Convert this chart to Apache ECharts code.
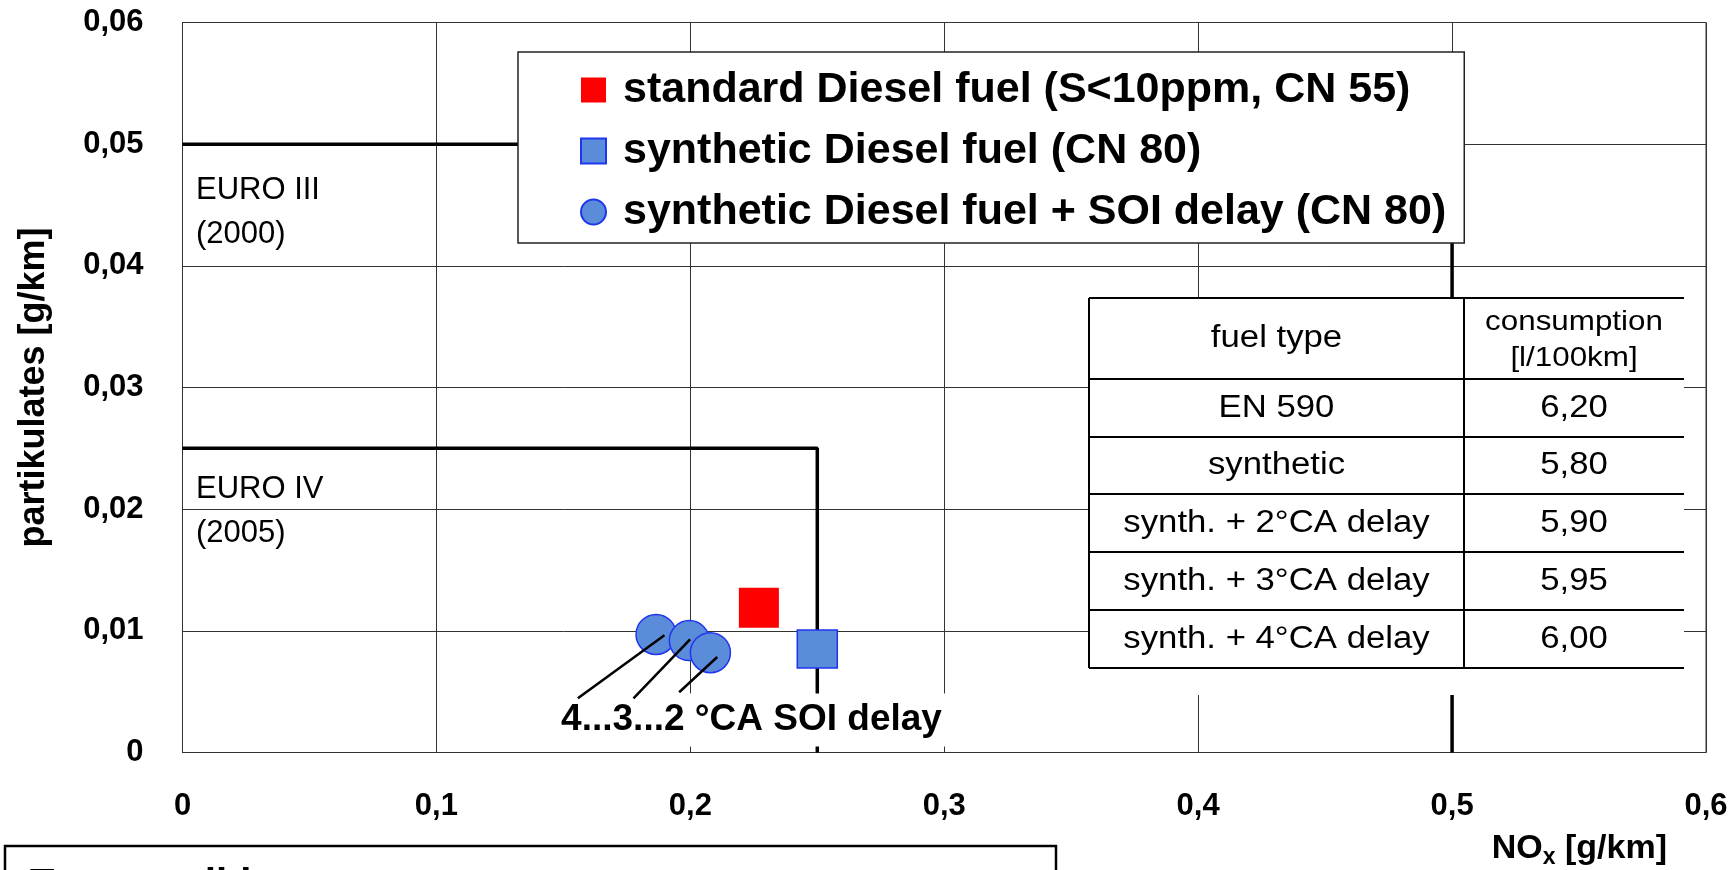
<!DOCTYPE html>
<html>
<head>
<meta charset="utf-8">
<script src="https://cdn.jsdelivr.net/npm/echarts@6/dist/echarts.min.js"></script>
<style>
html, body { margin: 0; padding: 0; background: #fff; }
#main { width: 1729px; height: 870px; }
</style>
</head>
<body>
<div id="main"></div>
<script>
// tick labels (German decimal comma)
var xTicks = ['0', '0,1', '0,2', '0,3', '0,4', '0,5', '0,6'];
var yTicks = ['0', '0,01', '0,02', '0,03', '0,04', '0,05', '0,06'];

// measured points [NOx, particulates]
var stdFuel = [[0.227, 0.0119]];
var synFuel = [[0.25, 0.0085]];
var synDelay = [[0.1865, 0.0097], [0.1996, 0.0092], [0.2079, 0.0082]];

// emission limits
var euro3 = [[0, 0.05], [0.5, 0.05], [0.5, 0]];
var euro4 = [[0, 0.025], [0.25, 0.025], [0.25, 0]];
var euroText = [
    {value: [0.0053, 0.0444], name: 'EURO III\n(2000)'},
    {value: [0.0053, 0.0198], name: 'EURO IV\n(2005)'}
];

// annotation for the SOI delay points
var soiNote = [{value: [0.2241, 0.00267], name: '4...3...2 °CA SOI delay'}];
var leaders = [
    [[0.1898, 0.00963], [0.1557, 0.00445]],
    [[0.1999, 0.0093], [0.1776, 0.00445]],
    [[0.2106, 0.00785], [0.1956, 0.00495]]
];

// consumption table
var tableHead = ['fuel type', 'consumption\n[l/100km]'];
var fuelTypes = ['EN 590', 'synthetic', 'synth. + 2°CA delay', 'synth. + 3°CA delay', 'synth. + 4°CA delay'];
var consumption = ['6,20', '5,80', '5,90', '5,95', '6,00'];

var FONT = '"Liberation Sans", Arial, Helvetica, sans-serif';
var blue = '#5b8cd9';
var blueBorder = '#1f35f0';

function cellText(x, y, txt, size, extra) {
    var st = {text: txt, font: size + 'px ' + FONT, fill: '#000', align: 'center', verticalAlign: 'middle'};
    if (extra) st.lineHeight = extra;
    return {type: 'text', z: 102, x: x, y: y, scaleX: 1.12, style: st};
}

function buildTable() {
    var x0 = 1089, x1 = 1464, x2 = 1684;
    var rows = [298, 379, 437, 494, 552, 610, 668];
    var els = [];
    els.push({type: 'rect', z: 100, shape: {x: x0, y: 298, width: x2 - x0, height: 397},
        style: {fill: '#fff', stroke: null}});
    rows.forEach(function (y) {
        els.push({type: 'line', z: 101, shape: {x1: x0, y1: y, x2: x2, y2: y},
            style: {stroke: '#000', lineWidth: 2}});
    });
    [x0, x1].forEach(function (x) {
        els.push({type: 'line', z: 101, shape: {x1: x, y1: rows[0], x2: x, y2: rows[6]},
            style: {stroke: '#000', lineWidth: 2}});
    });
    var c1 = (x0 + x1) / 2, c2 = (x1 + x2) / 2;
    els.push(cellText(c1, (rows[0] + rows[1]) / 2, tableHead[0], 31));
    els.push(cellText(c2, (rows[0] + rows[1]) / 2 + 2, tableHead[1], 28, 36));
    for (var i = 0; i < fuelTypes.length; i++) {
        var cy = (rows[i + 1] + rows[i + 2]) / 2;
        els.push(cellText(c1, cy, fuelTypes[i], 31));
        els.push(cellText(c2, cy, consumption[i], 31));
    }
    return els;
}

var myChart = echarts.init(document.getElementById('main'));

var option = {
    animation: false,
    backgroundColor: '#fff',
    textStyle: {fontFamily: FONT},
    grid: {
        left: 182.5,
        right: 23,
        top: 22.5,
        bottom: 117.5,
        outerBoundsMode: 'none',
        containLabel: false,
        show: true,
        borderColor: '#333',
        borderWidth: 1
    },
    legend: {
        orient: 'vertical',
        left: 518,
        top: 52,
        padding: [15, 18, 8, 62],
        itemGap: 15,
        itemWidth: 25,
        itemHeight: 25,
        backgroundColor: '#fff',
        borderColor: '#222',
        borderWidth: 1.5,
        z: 50,
        textStyle: {
            fontFamily: FONT,
            fontSize: 43,
            fontWeight: 'bold',
            color: '#000',
            lineHeight: 46,
            padding: [0, 0, 0, 12]
        },
        data: [
            'standard Diesel fuel (S<10ppm, CN 55)',
            'synthetic Diesel fuel (CN 80)',
            'synthetic Diesel fuel + SOI delay (CN 80)'
        ]
    },
    xAxis: {
        type: 'value',
        min: 0,
        max: 0.6,
        interval: 0.1,
        axisLine: {show: true, lineStyle: {color: '#333', width: 1}},
        axisTick: {show: false},
        splitLine: {show: true, lineStyle: {color: '#333', width: 1}},
        axisLabel: {
            margin: 38,
            fontSize: 31,
            fontWeight: 'bold',
            color: '#000',
            fontFamily: FONT,
            formatter: function (v) { return xTicks[Math.round(v / 0.1)]; }
        }
    },
    yAxis: {
        type: 'value',
        min: 0,
        max: 0.06,
        interval: 0.01,
        name: 'partikulates [g/km]',
        nameLocation: 'middle',
        nameGap: 130,
        nameRotate: 90,
        nameMoveOverlap: false,
        nameTextStyle: {fontSize: 36, fontWeight: 'bold', color: '#000', fontFamily: FONT},
        axisLine: {show: true, lineStyle: {color: '#333', width: 1}},
        axisTick: {show: false},
        splitLine: {show: true, lineStyle: {color: '#333', width: 1}},
        axisLabel: {
            margin: 39,
            fontSize: 31,
            fontWeight: 'bold',
            color: '#000',
            fontFamily: FONT,
            formatter: function (v) { return yTicks[Math.round(v / 0.01)]; }
        }
    },
    graphic: {
        elements: buildTable().concat([
            {
                type: 'text', z: 100, x: 1667, y: 849,
                style: {
                    text: '{a|NO}{s|x}{a| [g/km]}',
                    align: 'right', verticalAlign: 'middle',
                    rich: {
                        a: {fontSize: 34, fontWeight: 'bold', fontFamily: FONT, fill: '#000'},
                        s: {fontSize: 23, fontWeight: 'bold', fontFamily: FONT, fill: '#000', padding: [17, 0, 0, 0]}
                    }
                }
            },
            {
                type: 'rect', z: 100,
                shape: {x: 5, y: 846, width: 1051, height: 80},
                style: {fill: '#fff', stroke: '#000', lineWidth: 2.5}
            },
            {
                type: 'text', z: 101, x: 30, y: 866,
                style: {text: 'Test conditions:', font: 'bold 40px ' + FONT, fill: '#000', align: 'left', verticalAlign: 'top'}
            }
        ])
    },
    series: [
        {
            name: 'EURO III',
            type: 'line',
            data: euro3,
            symbol: 'none',
            z: 2,
            lineStyle: {color: '#000', width: 3.5}
        },
        {
            name: 'EURO IV',
            type: 'line',
            data: euro4,
            symbol: 'none',
            z: 2,
            lineStyle: {color: '#000', width: 3.5}
        },
        {
            name: 'limits',
            type: 'scatter',
            data: euroText,
            symbolSize: 0,
            z: 2,
            itemStyle: {opacity: 1},
            label: {
                show: true,
                position: 'right',
                distance: 0,
                formatter: '{b}',
                fontSize: 31,
                lineHeight: 44,
                color: '#000',
                fontFamily: FONT
            }
        },
        {
            name: 'standard Diesel fuel (S<10ppm, CN 55)',
            type: 'scatter',
            data: stdFuel,
            symbol: 'rect',
            symbolSize: 40,
            z: 3,
            itemStyle: {color: '#ff0000', opacity: 1}
        },
        {
            name: 'synthetic Diesel fuel (CN 80)',
            type: 'scatter',
            data: synFuel,
            symbol: 'rect',
            symbolSize: [40, 38],
            z: 3,
            itemStyle: {color: blue, borderColor: blueBorder, borderWidth: 1.5, opacity: 1}
        },
        {
            name: 'synthetic Diesel fuel + SOI delay (CN 80)',
            type: 'scatter',
            data: synDelay,
            symbol: 'circle',
            symbolSize: 40,
            z: 3,
            itemStyle: {color: blue, borderColor: blueBorder, borderWidth: 1.5, opacity: 1}
        },
        {
            name: 'note',
            type: 'scatter',
            data: soiNote,
            symbolSize: 0,
            z: 4,
            itemStyle: {opacity: 1},
            label: {
                show: true,
                position: 'inside',
                formatter: '{b}',
                fontSize: 37,
                fontWeight: 'bold',
                color: '#000',
                fontFamily: FONT,
                backgroundColor: '#fff',
                padding: [8, 12, 8, 12]
            }
        },
        {
            name: 'leaders',
            type: 'lines',
            coordinateSystem: 'cartesian2d',
            z: 5,
            data: leaders.map(function (c) { return {coords: c}; }),
            lineStyle: {color: '#000', width: 2.5, opacity: 1}
        }
    ]
};

myChart.setOption(option);
</script>
</body>
</html>
